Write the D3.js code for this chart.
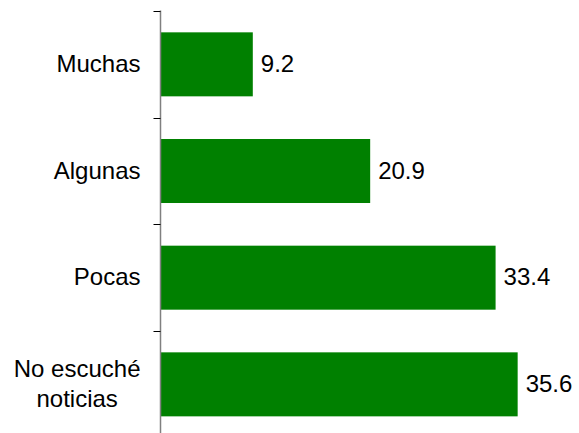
<!DOCTYPE html>
<html><head><meta charset="utf-8">
<script src="https://cdn.jsdelivr.net/npm/d3@7"></script>
<style>body{margin:0;background:#fff}svg{display:block}text{font-family:"Liberation Sans",Arial,sans-serif;fill:#000}</style>
</head><body>
<svg id="c" width="579" height="433"></svg>
<script>
const categories = ["Muchas", "Algunas", "Pocas", "No escuché noticias"];
const categoryLines = [["Muchas"], ["Algunas"], ["Pocas"], ["No escuché", "noticias"]];
const values = [9.2, 20.9, 33.4, 35.6];

const svg = d3.select("#c");
const x0 = 160.5;
const x = d3.scaleLinear().domain([0, 40]).range([x0, x0 + 401.3]);
const y = d3.scaleBand().domain(categories).range([11, 11 + 4 * 106.67]).paddingInner(0.4).paddingOuter(0.2);
const FS = 24, BASE = 7.7;

// bars
svg.selectAll("rect.bar").data(values).enter().append("rect")
  .attr("class", "bar")
  .attr("x", x(0))
  .attr("y", (d, i) => y(categories[i]))
  .attr("width", d => x(d) - x(0))
  .attr("height", y.bandwidth())
  .attr("fill", "#008000");

// axis line and ticks
const bounds = d3.range(categories.length + 1).map(i => 11 + i * 106.67);
svg.append("line").attr("x1", x0).attr("x2", x0).attr("y1", 10.5).attr("y2", 440)
  .attr("stroke", "#808080").attr("stroke-width", 1.5);
svg.selectAll("line.tick").data(bounds).enter().append("line")
  .attr("class", "tick")
  .attr("x1", x0 - 7).attr("x2", x0)
  .attr("y1", d => Math.round(d) + 0.5).attr("y2", d => Math.round(d) + 0.5)
  .attr("stroke", "#000").attr("stroke-width", 1);

// value labels
svg.selectAll("text.val").data(values).enter().append("text")
  .attr("class", "val")
  .attr("x", d => x(d) + 8)
  .attr("y", (d, i) => y(categories[i]) + y.bandwidth() / 2 + BASE)
  .attr("font-size", FS)
  .text(d => d.toFixed(1));

// category labels
const rightEdge = 140.5;
const lh = 30;
categoryLines.forEach((lines, i) => {
  const cy = y(categories[i]) + y.bandwidth() / 2;
  lines.forEach((l, j) => {
    const by = cy + BASE + (j - (lines.length - 1) / 2) * lh;
    const t = svg.append("text").attr("font-size", FS).attr("y", by).text(l);
    if (lines.length === 1) {
      t.attr("text-anchor", "end").attr("x", rightEdge);
    } else {
      t.attr("class", "ml");
    }
  });
});
const ml = svg.selectAll("text.ml");
let maxW = 0;
ml.each(function () { maxW = Math.max(maxW, this.getComputedTextLength()); });
ml.attr("text-anchor", "middle").attr("x", rightEdge - maxW / 2);
</script>
</body></html>
